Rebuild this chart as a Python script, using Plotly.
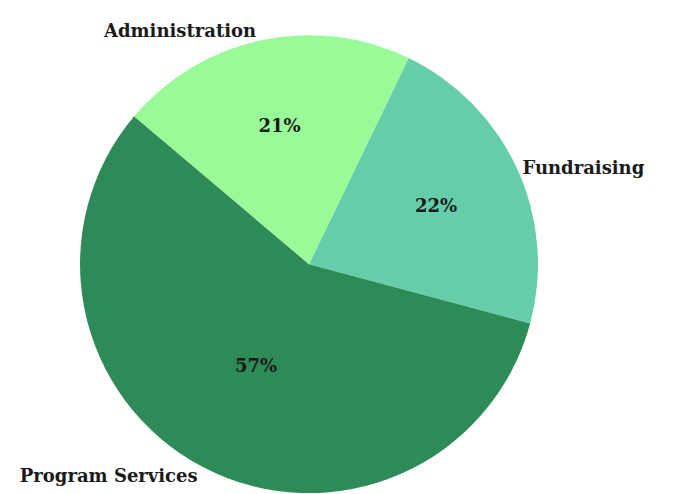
import plotly.graph_objects as go

labels = ["Fundraising", "Program Services", "Administration"]
values = [22, 57, 21]
colors = ["#66cdaa", "#2e8b57", "#98fb98"]

font_family = "DejaVu Serif"
dom = dict(x=[0.1070, 0.7875], y=[0.018, 0.945])

fig = go.Figure()
fig.add_trace(go.Pie(
    labels=labels, values=values, sort=False, direction="clockwise", rotation=25.8,
    marker=dict(colors=colors, line=dict(width=0)),
    texttemplate="<b>%{percent:.0%}</b>", textposition="inside", insidetextorientation="horizontal",
    textfont=dict(family=font_family, size=18, color="#1a1a1a"),
    domain=dom, showlegend=False, hoverinfo="label+percent",
))
fig.add_trace(go.Pie(
    labels=labels, values=values, sort=False, direction="clockwise", rotation=25.8,
    marker=dict(colors=["rgba(0,0,0,0)"] * 3, line=dict(width=0)),
    texttemplate="<b>%{label}</b>", textposition="outside",
    textfont=dict(family=font_family, size=18, color="#1a1a1a"),
    domain=dom, showlegend=False, hoverinfo="skip",
))
fig.update_layout(
    width=673, height=494, margin=dict(l=0, r=0, t=0, b=0),
    paper_bgcolor="white", plot_bgcolor="white",
)
fig.write_html("out.html")
